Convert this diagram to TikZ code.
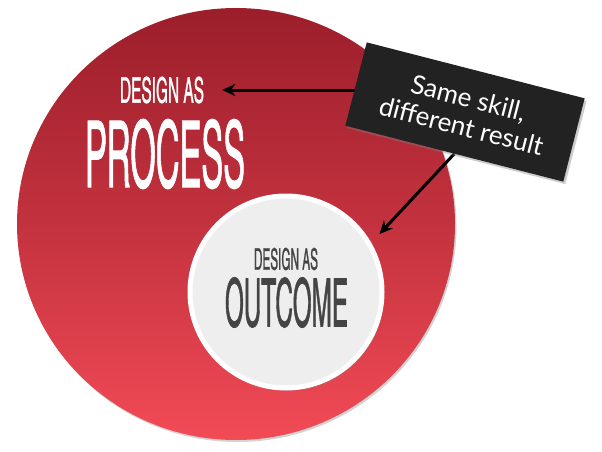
\documentclass[tikz,border=0pt]{standalone}
\usepackage{fontspec}
\usetikzlibrary{arrows.meta,shapes.geometric,shadows}
\newfontfamily\condfont[FakeBold=1.3]{TeX Gyre Heros Cn}
\newfontfamily\handfont{Lato}
\definecolor{redtop}{HTML}{9C1E2B}
\definecolor{redbot}{HTML}{F24B56}
\definecolor{notegray}{HTML}{222222}
\definecolor{paleface}{HTML}{EEEEEE}
\definecolor{darktext}{HTML}{444444}
\pgfdeclarelayer{front}
\pgfsetlayers{main,front}
\begin{document}
\begin{tikzpicture}[x=1pt,y=-1pt,
  bigdisc/.style={ellipse,inner sep=0pt,minimum width=438pt,minimum height=432pt,
    top color=redtop,bottom color=redbot,middle color=redtop!55!redbot,
    drop shadow={shadow xshift=1.5pt,shadow yshift=-2pt,opacity=0.35}},
  smalldisc/.style={circle,inner sep=0pt,minimum size=192pt,fill=paleface,draw=white,line width=5pt,
    drop shadow={shadow xshift=2pt,shadow yshift=-2.5pt,opacity=0.45}},
  lighttitle/.style={inner sep=0pt,text=white,font=\condfont},
  darktitle/.style={inner sep=0pt,text=darktext,font=\condfont},
  notebox/.style={rectangle,fill=notegray,minimum width=225pt,minimum height=86pt,inner sep=0pt,
    rotate=-14.4,text=white,align=center,font=\handfont\fontsize{26}{29}\selectfont,
    drop shadow={shadow xshift=2pt,shadow yshift=-2.5pt,opacity=0.4}},
  pointer/.style={line width=3pt,-{Stealth[length=13pt,width=12pt,inset=4pt]}}]
\useasboundingbox (0,0) rectangle (602,452);
\node[bigdisc] (proc) at (236,224) {};
\node[smalldisc] (outc) at (286,292) {};
\node[lighttitle] (dproc) at (162,90) {\resizebox{84pt}{26pt}{DESIGN AS}};
\node[lighttitle] (wproc) at (165,154) {\resizebox{160pt}{68pt}{PROCESS}};
\node[darktitle] (dout) at (286,259) {\resizebox{64pt}{22pt}{DESIGN AS}};
\node[darktitle] (wout) at (286.5,302.5) {\resizebox{123pt}{49pt}{OUTCOME}};
\begin{pgfonlayer}{front}
\node[notebox] (note) at (465,112) {Same skill,\\different result};
\end{pgfonlayer}
\draw[pointer,shorten >=18pt] (note.west |- dproc.east) -- (dproc.east);
\draw[pointer,shorten >=12pt] (note.south) -- (outc.30);
\end{tikzpicture}
\end{document}
